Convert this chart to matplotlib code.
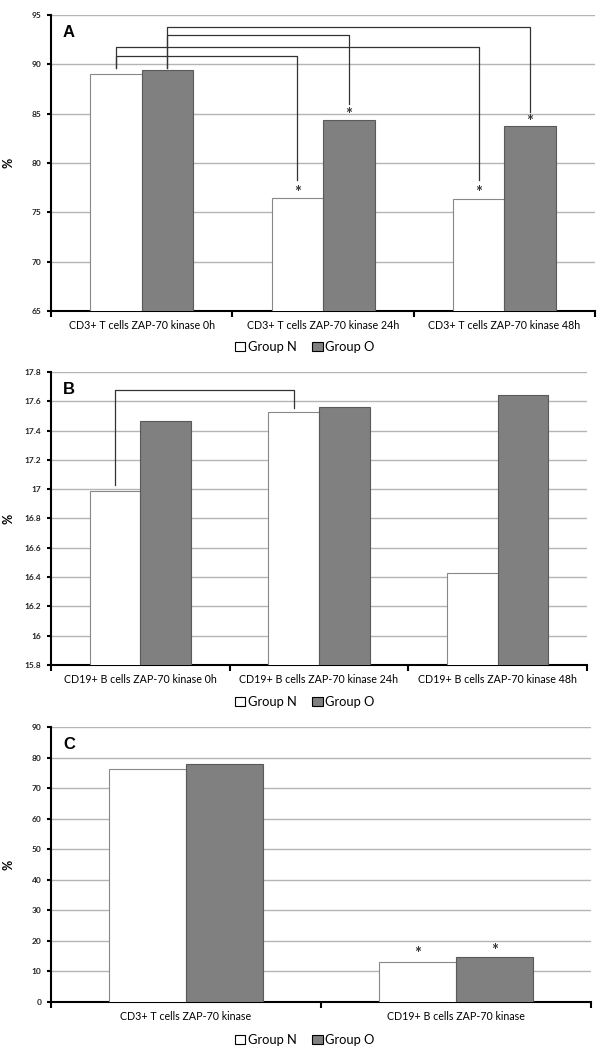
import matplotlib.pyplot as plt
import matplotlib.transforms as mtransforms
import numpy as np

plt.rcParams['font.family'] = ['Lato', 'DejaVu Sans']

# data
cats_a = ['CD3+ T cells ZAP-70 kinase 0h', 'CD3+ T cells ZAP-70 kinase 24h', 'CD3+ T cells ZAP-70 kinase 48h']
n_a = [89.0, 76.5, 76.35]
o_a = [89.4, 84.35, 83.8]

cats_b = ['CD19+ B cells ZAP-70 kinase 0h', 'CD19+ B cells ZAP-70 kinase 24h', 'CD19+ B cells ZAP-70 kinase 48h']
n_b = [16.985, 17.528, 16.43]
o_b = [17.467, 17.558, 17.64]

cats_c = ['CD3+ T cells ZAP-70 kinase', 'CD19+ B cells ZAP-70 kinase']
n_c = [76.25, 13.2]
o_c = [78.0, 14.7]

W = 0.284
OFF = 0.142
WHITE = 'white'
GRAY = '#808080'

fig = plt.figure(figsize=(6, 10.54), dpi=100)


def panel(rect, cats, n, o, ylim, step, letter, fmt):
    ax = fig.add_axes(rect)
    x = np.arange(len(cats))
    ax.bar(x - OFF, n, W, color=WHITE, edgecolor='#888888', linewidth=0.8, zorder=3)
    ax.bar(x + OFF, o, W, color=GRAY, edgecolor='#5a5a5a', linewidth=0.8, zorder=3)
    ax.set_xlim(-0.5, len(cats) - 0.5)
    ax.set_ylim(*ylim)
    ticks = np.arange(ylim[0], ylim[1] + step / 2, step)
    ax.set_yticks(ticks)
    ax.set_yticklabels([fmt(t) for t in ticks], fontsize=6, fontweight='bold', color='#222222')
    for t in ticks[1:]:
        ax.axhline(t, color='#b4b4b4', lw=1.0, zorder=1)
    ax.set_xticks(x)
    ax.set_xticklabels(cats, fontsize=7.7)
    ax.set_xticks(np.arange(-0.5, len(cats)), minor=True)
    ax.tick_params(axis='x', which='major', length=0, pad=6.5)
    ax.tick_params(axis='x', which='minor', length=4, width=1.5, direction='out')
    ax.tick_params(axis='y', length=3, width=1.5, direction='out', pad=4)
    for s in ['top', 'right']:
        ax.spines[s].set_visible(False)
    for s in ['left', 'bottom']:
        ax.spines[s].set_linewidth(1.5)
    ax.spines['left'].set_zorder(4)
    ax.set_ylabel('%', fontsize=9, fontweight='bold', va='center', ha='center')
    ax.yaxis.set_label_coords(0.0145, 0.5,
                              transform=mtransforms.blended_transform_factory(fig.transFigure, ax.transAxes))
    ax.text(0.022, 0.965, letter, transform=ax.transAxes, fontsize=12, fontweight='bold',
            family='Liberation Sans', va='top', ha='left')
    return ax, x


def bracket(ax, x1, y1, x2, y2, ytop):
    ax.plot([x1, x1, x2, x2], [y1, ytop, ytop, y2], color='#333333', lw=0.9, zorder=5)


def star(ax, xx, yy, dy):
    ax.annotate('*', xy=(xx, yy), xytext=(0, dy), textcoords='offset pixels',
                ha='center', va='baseline', fontsize=12, fontweight='bold',
                color='#333333', zorder=5)


def legend(y):
    h = [plt.Rectangle((0, 0), 1, 1, facecolor=WHITE, edgecolor='black', lw=0.8),
         plt.Rectangle((0, 0), 1, 1, facecolor=GRAY, edgecolor='black', lw=0.8)]
    fig.legend(h, ['Group N', 'Group O'], loc='center', bbox_to_anchor=(0.508, y), ncol=2,
               frameon=False, fontsize=9.3, handlelength=0.8, handleheight=0.8,
               handletextpad=0.2, columnspacing=1.2)


# panel A
ax, x = panel([0.085, 0.7049, 0.9067, 0.2808], cats_a, n_a, o_a, (65, 95), 5, 'A',
              lambda t: '%d' % t)
bracket(ax, x[0] - OFF, 89.6, x[1] - OFF, 78.3, 90.9)
bracket(ax, x[0] - OFF, 89.6, x[2] - OFF, 78.3, 91.75)
bracket(ax, x[0] + OFF, 89.6, x[1] + OFF, 86.0, 93.0)
bracket(ax, x[0] + OFF, 89.6, x[2] + OFF, 85.2, 93.8)
star(ax, x[1] - OFF, n_a[1], 0)
star(ax, x[1] + OFF, o_a[1], 0)
star(ax, x[2] - OFF, n_a[2], 1)
star(ax, x[2] + OFF, o_a[2], -1)
legend(0.6708)

# panel B
ax, x = panel([0.085, 0.3691, 0.8933, 0.278], cats_b, n_b, o_b, (15.8, 17.8), 0.2, 'B',
              lambda t: ('%.1f' % t).rstrip('0').rstrip('.'))
bracket(ax, x[0] - OFF, 17.03, x[1] - OFF, 17.555, 17.68)
legend(0.334)

# panel C
ax, x = panel([0.085, 0.0493, 0.9, 0.2609], cats_c, n_c, o_c, (0, 90), 10, 'C',
              lambda t: '%d' % t)
star(ax, x[1] - OFF, n_c[1], 3)
star(ax, x[1] + OFF, o_c[1], 1)
legend(0.0133)

fig.savefig('out.png', dpi=100)
